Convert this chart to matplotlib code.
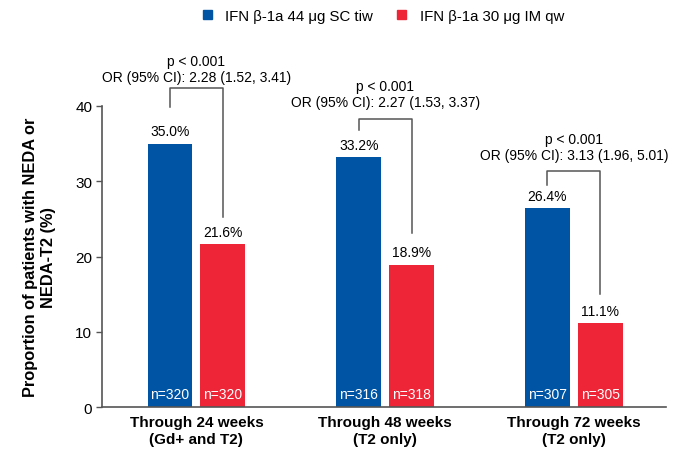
import matplotlib
matplotlib.use("Agg")
import matplotlib.pyplot as plt
import numpy as np
from matplotlib.patches import Patch

plt.rcParams['font.family'] = ['Liberation Sans', 'DejaVu Sans']

categories = ["Through 24 weeks\n(Gd+ and T2)", "Through 48 weeks\n(T2 only)", "Through 72 weeks\n(T2 only)"]
series_names = ["IFN \u03b2-1a 44 \u03bcg SC tiw", "IFN \u03b2-1a 30 \u03bcg IM qw"]
sc_values = [35.0, 33.2, 26.4]
im_values = [21.6, 18.9, 11.1]
sc_n = [320, 316, 307]
im_n = [320, 318, 305]
p_labels = ["p < 0.001", "p < 0.001", "p < 0.001"]
or_labels = ["OR (95% CI): 2.28 (1.52, 3.41)",
             "OR (95% CI): 2.27 (1.53, 3.37)",
             "OR (95% CI): 3.13 (1.96, 5.01)"]

# bracket layout (data units)
bracket_top = [42.4, 38.3, 31.4]
left_leg_bottom = [39.9, 36.8, 29.5]
right_leg_bottom = [25.2, 23.1, 15.0]
or_text_y = [43.9, 40.5, 33.5]
p_text_y = [46.0, 42.6, 35.6]

blue = "#0054A4"
red = "#EE2536"
line_col = "#555555"

fig = plt.figure(figsize=(6.85, 4.52), dpi=100)
ax = fig.add_axes([0.149, 0.0973, 0.823, 0.666])

x = np.arange(len(categories))
w = 0.238
off = 0.14
ax.bar(x - off, sc_values, w, color=blue)
ax.bar(x + off, im_values, w, color=red)

ax.set_xlim(-0.5, 2.487)
ax.set_ylim(0, 40)
ax.set_yticks([0, 10, 20, 30, 40])
ax.set_xticks(x)
ax.set_xticklabels(categories, fontsize=11, fontweight='bold')
ax.tick_params(axis='x', length=0, pad=6)
ax.tick_params(axis='y', length=4, width=1, color=line_col, labelsize=11, pad=3)
for s in ['top', 'right']:
    ax.spines[s].set_visible(False)
for s in ['left', 'bottom']:
    ax.spines[s].set_color(line_col)
    ax.spines[s].set_linewidth(1.2)

ax.set_ylabel("Proportion of patients with NEDA or\nNEDA-T2 (%)", fontsize=11.8,
              fontweight='bold', labelpad=14)

for i in range(len(categories)):
    xb = x[i] - off
    xr = x[i] + off
    ax.annotate(f"{sc_values[i]:.1f}%", (xb, sc_values[i]), xytext=(0, 4),
                textcoords='offset points', ha='center', va='bottom', fontsize=10)
    ax.annotate(f"{im_values[i]:.1f}%", (xr, im_values[i]), xytext=(0, 4),
                textcoords='offset points', ha='center', va='bottom', fontsize=10)
    ax.annotate(f"n={sc_n[i]}", (xb, 0), xytext=(0, 9.5), textcoords='offset points',
                ha='center', va='center', fontsize=10, color='white')
    ax.annotate(f"n={im_n[i]}", (xr, 0), xytext=(0, 9.5), textcoords='offset points',
                ha='center', va='center', fontsize=10, color='white')
    ax.plot([xb, xb, xr, xr], [left_leg_bottom[i], bracket_top[i], bracket_top[i], right_leg_bottom[i]],
            color=line_col, lw=1.1, clip_on=False)
    ax.text(x[i], or_text_y[i], or_labels[i], ha='center', va='center', fontsize=10, clip_on=False)
    ax.text(x[i], p_text_y[i], p_labels[i], ha='center', va='center', fontsize=10, clip_on=False)

handles = [Patch(color=blue, label=series_names[0]), Patch(color=red, label=series_names[1])]
fig.legend(handles=handles, loc='center', bbox_to_anchor=(0.56, 0.963), ncol=2, frameon=False,
           fontsize=10.8, handlelength=0.6, handleheight=0.6, handletextpad=0.9, columnspacing=1.6)

fig.savefig("out.png", dpi=100)
